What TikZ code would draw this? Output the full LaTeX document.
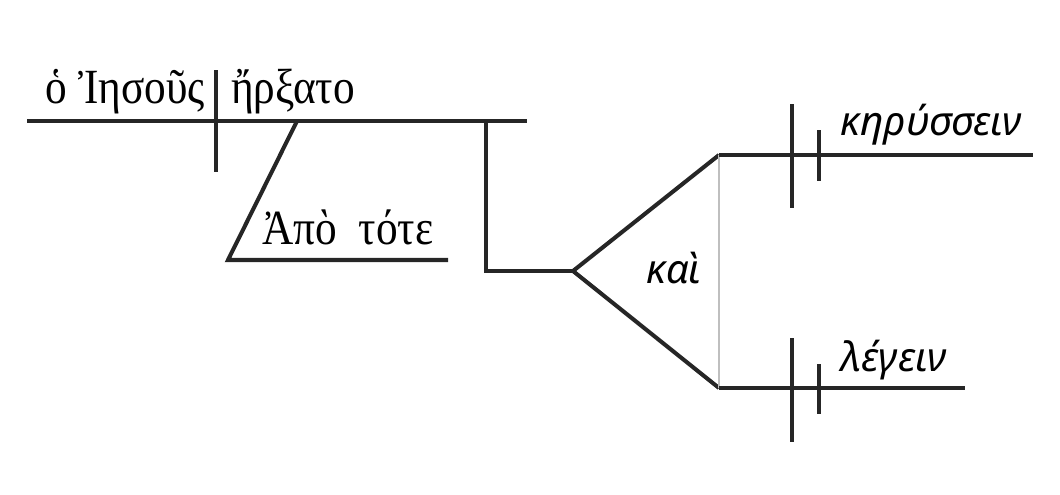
\documentclass[tikz,border=0pt]{standalone}
\usepackage{fontspec}
\setmainfont{Liberation Serif}
\newfontfamily\greeksans{Noto Sans}
\newcommand{\narrow}[1]{\scalebox{0.88}[1]{#1}}
\tikzset{
    diag/.style={line width=2.3pt, color=black!85},
    word/.style={inner sep=0pt, font=\fontsize{28}{32}\selectfont},
    wordit/.style={inner sep=0pt, font=\greeksans\itshape\fontsize{23}{28}\selectfont}
}

\begin{document}
\begin{tikzpicture}[x=0.02cm, y=-0.02cm]
        \useasboundingbox (0,0) rectangle (1060,494);
        % points
            \coordinate (mainL) at (27,121);
            \coordinate (mainR) at (527,121);
            \coordinate (divT) at (216,70);
            \coordinate (divB) at (216,172);
            \coordinate (slantT) at (297,121);
            \coordinate (slantB) at (228,260);
            \coordinate (modR) at (448,260);
            \coordinate (dropT) at (486,121);
            \coordinate (dropB) at (486,271);
            \coordinate (fork) at (573,271);
            \coordinate (upL) at (719,155);
            \coordinate (upR) at (1033,155);
            \coordinate (loL) at (719,388);
            \coordinate (loR) at (965,388);
        % main line
            \draw [diag] (mainL) -- (mainR);
            \draw [diag] (divT) -- (divB);
            \draw [diag] (slantT) -- (slantB) -- (modR);
        % infinitives
            \draw [diag] (dropT) -- (dropB) -- (fork);
            \draw [diag, line join=round] (upL) -- (fork) -- (loL);
            \draw [line width=1.2pt, color=black!25] (upL) -- (loL);
            \draw [diag] (upL) -- (upR);
            \draw [diag] (loL) -- (loR);
            \draw [diag] (792,104) -- (792,208);
            \draw [diag] (819,130) -- (819,181);
            \draw [diag] (792,338) -- (792,442);
            \draw [diag] (819,364) -- (819,414);
        % words
            \node [word, anchor=base east] (subj) at (205,103) {\narrow{ὁ Ἰησοῦς}};
            \node [word, anchor=base west] (verb) at (231,103) {\narrow{ἤρξατο}};
            \node [word, anchor=base west] (adv) at (262,244) {\narrow{Ἀπὸ\hspace{0.5em}τότε}};
            \node [wordit, anchor=base west] (conj) at (646,283) {καὶ};
            \node [wordit, anchor=base west] (inf1) at (840,135) {κηρύσσειν};
            \node [wordit, anchor=base west] (inf2) at (840,371) {λέγειν};
\end{tikzpicture}
\end{document}
